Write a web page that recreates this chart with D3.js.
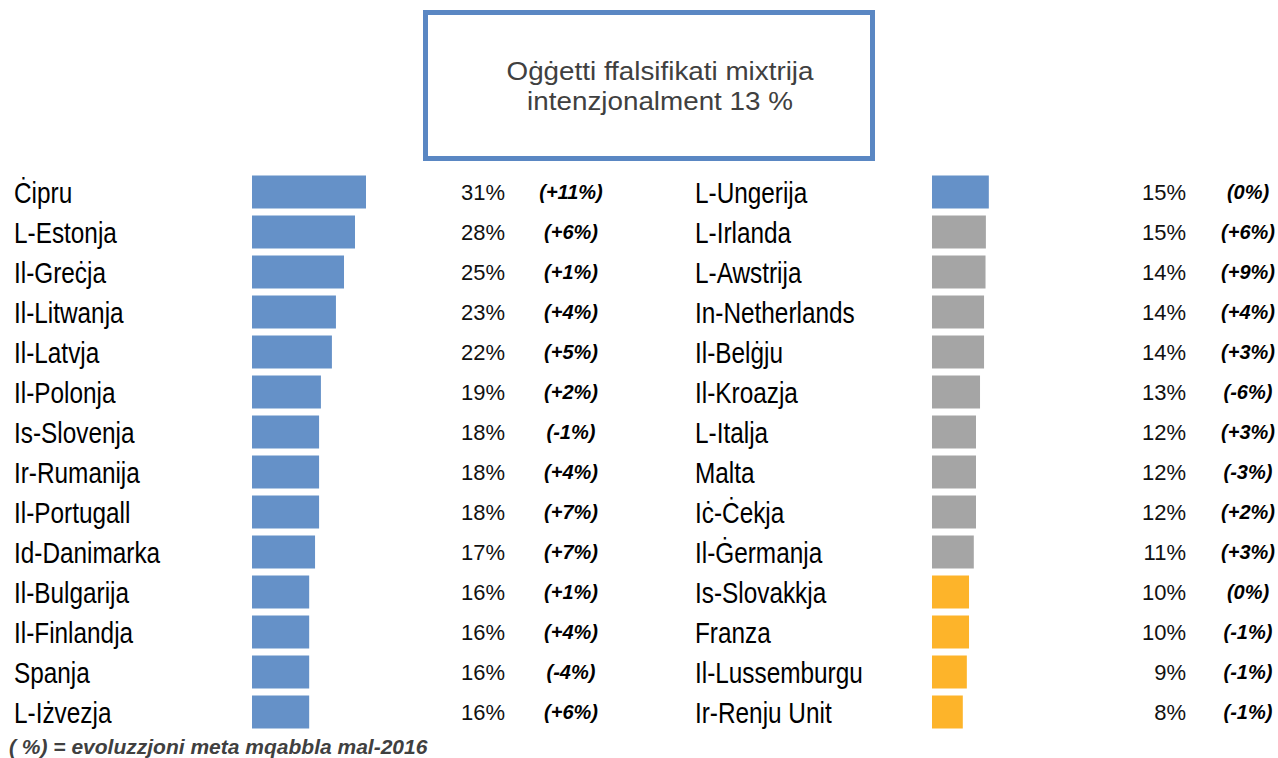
<!DOCTYPE html>
<html>
<head>
<meta charset="utf-8">
<script src="https://cdn.jsdelivr.net/npm/d3@7"></script>
<style>
  body { margin: 0; background: #fff; }
  svg { display: block; }
</style>
</head>
<body>
<svg id="chart" width="1278" height="758"></svg>
<script>
// data
var titleLines = ['Oġġetti ffalsifikati mixtrija', 'intenzjonalment 13 %'];
var footnote = '( %) = evoluzzjoni meta mqabbla mal-2016';

var leftNames = ['Ċipru', 'L-Estonja', 'Il-Greċja', 'Il-Litwanja', 'Il-Latvja', 'Il-Polonja', 'Is-Slovenja',
    'Ir-Rumanija', 'Il-Portugall', 'Id-Danimarka', 'Il-Bulgarija', 'Il-Finlandja', 'Spanja', 'L-Iżvezja'];
var leftShares = [31.1, 28.1, 25.1, 22.9, 21.8, 18.8, 18.3, 18.3, 18.3, 17.2, 15.6, 15.6, 15.6, 15.6];
var leftValues = [31, 28, 25, 23, 22, 19, 18, 18, 18, 17, 16, 16, 16, 16];
var leftChanges = ['+11', '+6', '+1', '+4', '+5', '+2', '-1', '+4', '+7', '+7', '+1', '+4', '-4', '+6'];
var leftTiers = ['above', 'above', 'above', 'above', 'above', 'above', 'above',
    'above', 'above', 'above', 'above', 'above', 'above', 'above'];

var rightNames = ['L-Ungerija', 'L-Irlanda', 'L-Awstrija', 'In-Netherlands', 'Il-Belġju', 'Il-Kroazja', 'L-Italja',
    'Malta', 'Iċ-Ċekja', 'Il-Ġermanja', 'Is-Slovakkja', 'Franza', 'Il-Lussemburgu', 'Ir-Renju Unit'];
var rightShares = [15.5, 14.7, 14.6, 14.2, 14.2, 13.1, 12.0, 12.0, 12.0, 11.4, 10.1, 10.1, 9.5, 8.4];
var rightValues = [15, 15, 14, 14, 14, 13, 12, 12, 12, 11, 10, 10, 9, 8];
var rightChanges = ['0', '+6', '+9', '+4', '+3', '-6', '+3', '-3', '+2', '+3', '0', '-1', '-1', '-1'];
var rightTiers = ['above', 'near', 'near', 'near', 'near', 'near', 'near',
    'near', 'near', 'near', 'below', 'below', 'below', 'below'];

var tierNames = ['above', 'near', 'below'];
var tierColors = ['#6591c8', '#a5a5a5', '#fdb42a'];

var svg = d3.select('#chart');
var color = d3.scaleOrdinal().domain(tierNames).range(tierColors);

// title box
svg.append('rect')
    .attr('x', 425.5).attr('y', 12.5)
    .attr('width', 447).attr('height', 146)
    .attr('fill', '#fff')
    .attr('stroke', '#5a87c3')
    .attr('stroke-width', 5);

// the original face is wider than Liberation Sans, so stretch it a bit
svg.append('g').selectAll('text')
    .data(titleLines)
    .enter().append('text')
    .attr('transform', function (d, i) { return 'translate(660,' + (80 + i * 30) + ') scale(1.07,1)'; })
    .attr('text-anchor', 'middle')
    .style('font-family', '"Liberation Sans", Arial, sans-serif')
    .style('font-size', '26px')
    .style('fill', '#404040')
    .text(function (d) { return d; });

// bar length scale, shared by both columns
var x = d3.scaleLinear().domain([0, 31.1]).range([0, 114]);

function drawColumn(opts) {
    var rows = opts.names.map(function (n, i) {
        return { name: n, share: opts.shares[i], value: opts.values[i], change: opts.changes[i], tier: opts.tiers[i] };
    });
    var y = d3.scaleBand().domain(opts.names).range([172, 732]).paddingInner(0.175).paddingOuter(0.0875);
    var g = svg.append('g');

    // names: narrow face in the original -> squeeze horizontally
    g.selectAll('.name')
        .data(rows)
        .enter().append('text')
        .attr('class', 'name')
        .attr('transform', function (d) {
            return 'translate(' + opts.nameX + ',' + (y(d.name) + y.bandwidth() / 2 + 11) + ') scale(0.84,1)';
        })
        .style('font-family', '"Liberation Sans", Arial, sans-serif')
        .style('font-size', '29px')
        .style('fill', '#000')
        .text(function (d) { return d.name; });

    g.selectAll('.bar')
        .data(rows)
        .enter().append('rect')
        .attr('class', 'bar')
        .attr('x', opts.barX)
        .attr('y', function (d) { return y(d.name); })
        .attr('width', function (d) { return x(d.share); })
        .attr('height', y.bandwidth())
        .attr('fill', function (d) { return color(d.tier); });

    g.selectAll('.val')
        .data(rows)
        .enter().append('text')
        .attr('class', 'val')
        .attr('x', opts.valX)
        .attr('y', function (d) { return y(d.name) + y.bandwidth() / 2 + 8; })
        .attr('text-anchor', 'end')
        .style('font-family', '"Liberation Sans", Arial, sans-serif')
        .style('font-size', '22px')
        .style('fill', '#111')
        .text(function (d) { return d.value + '%'; });

    g.selectAll('.chg')
        .data(rows)
        .enter().append('text')
        .attr('class', 'chg')
        .attr('x', opts.chgX)
        .attr('y', function (d) { return y(d.name) + y.bandwidth() / 2 + 7; })
        .attr('text-anchor', 'middle')
        .style('font-family', '"Liberation Sans", Arial, sans-serif')
        .style('font-size', '20px')
        .style('font-weight', 'bold')
        .style('font-style', 'italic')
        .style('fill', '#000')
        .text(function (d) { return '(' + d.change + '%)'; });
}

drawColumn({ names: leftNames, shares: leftShares, values: leftValues, changes: leftChanges, tiers: leftTiers,
    nameX: 14, barX: 252, valX: 505, chgX: 571 });
drawColumn({ names: rightNames, shares: rightShares, values: rightValues, changes: rightChanges, tiers: rightTiers,
    nameX: 695, barX: 932, valX: 1186, chgX: 1248 });

// footnote, cut by the bottom edge in the original
svg.append('text')
    .attr('x', 9)
    .attr('y', 754)
    .style('font-family', '"Liberation Sans", Arial, sans-serif')
    .style('font-size', '21px')
    .style('font-weight', 'bold')
    .style('font-style', 'italic')
    .style('fill', '#404040')
    .text(footnote);
</script>
</body>
</html>
